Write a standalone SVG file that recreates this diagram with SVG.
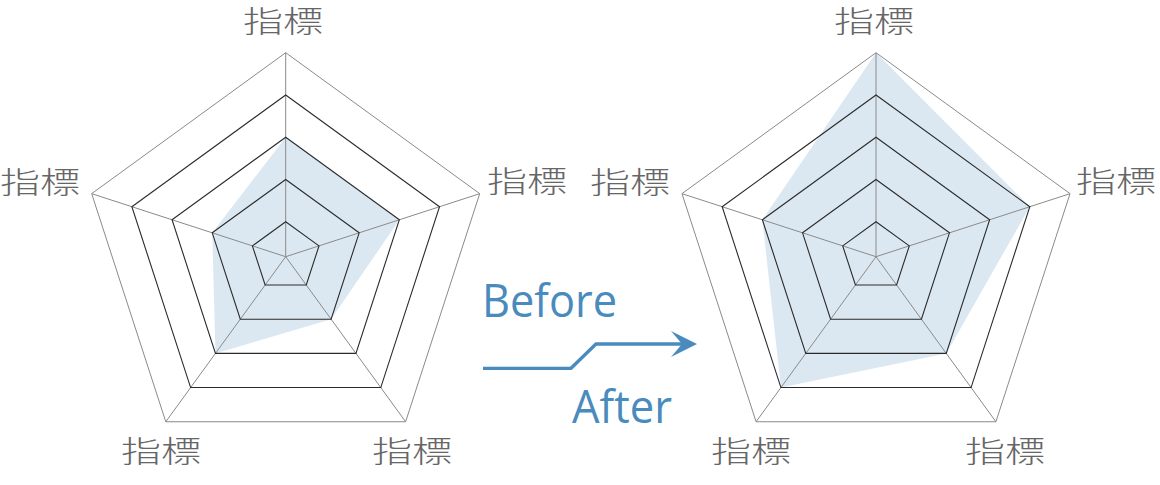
<svg xmlns="http://www.w3.org/2000/svg" xmlns:xlink="http://www.w3.org/1999/xlink" width="1160" height="485" viewBox="0 0 1160 485">
<style>
.bg{fill:#ffffff}
.area{fill:#dce8f1;stroke:none}
.spoke{stroke:#8a8a8a;stroke-width:1;fill:none}
.ring{stroke:#2a2a2a;stroke-width:1.1;fill:none}
.outer{stroke:#8a8a8a;stroke-width:1;fill:none}
.lbl{font-family:"Noto Sans CJK JP","Noto Sans CJK SC",sans-serif;font-size:30px;font-weight:300;fill:#666666}
.en{font-family:"Open Sans","Liberation Sans",sans-serif;font-size:45px;fill:#4a8bbd}
.arrow{stroke:#4a8bbd;stroke-width:3.3;fill:none;stroke-linejoin:miter}
.head{fill:#4a8bbd}
</style>
<defs>
<g id="grid">
<g class="spokes">
<line class="spoke" x1="0" y1="0" x2="0" y2="-204"/>
<line class="spoke" x1="0" y1="0" x2="194.02" y2="-63.04"/>
<line class="spoke" x1="0" y1="0" x2="119.91" y2="165.04"/>
<line class="spoke" x1="0" y1="0" x2="-119.91" y2="165.04"/>
<line class="spoke" x1="0" y1="0" x2="-194.02" y2="-63.04"/>
</g>
<polygon class="ring" points="0,-35 33.29,-10.82 20.57,28.32 -20.57,28.32 -33.29,-10.82"/>
<polygon class="ring" points="0,-77.25 73.47,-23.87 45.41,62.5 -45.41,62.5 -73.47,-23.87"/>
<polygon class="ring" points="0,-119.5 113.65,-36.93 70.24,96.68 -70.24,96.68 -113.65,-36.93"/>
<polygon class="ring" points="0,-161.75 153.83,-49.98 95.07,130.86 -95.07,130.86 -153.83,-49.98"/>
<polygon class="outer" points="0,-204 194.02,-63.04 119.91,165.04 -119.91,165.04 -194.02,-63.04"/>
</g>
</defs>
<rect class="bg" x="0" y="0" width="1160" height="485"/>

<g id="chart-before" transform="translate(285.7,256.7)">
<polygon class="area" points="0,-119.5 113.65,-36.93 45.41,62.5 -70.24,96.68 -73.47,-23.87"/>
<use xlink:href="#grid"/>
</g>

<g id="chart-after" transform="translate(876,256.7)">
<polygon class="area" points="0,-204 153.83,-49.98 70.24,96.68 -95.07,130.86 -113.65,-36.93"/>
<use xlink:href="#grid"/>
</g>

<g id="labels-before">
<text class="lbl" x="243" y="32" textLength="80" lengthAdjust="spacingAndGlyphs">指標</text>
<text class="lbl" x="0" y="193" textLength="80" lengthAdjust="spacingAndGlyphs">指標</text>
<text class="lbl" x="487" y="191.5" textLength="80" lengthAdjust="spacingAndGlyphs">指標</text>
<text class="lbl" x="121" y="461.5" textLength="80" lengthAdjust="spacingAndGlyphs">指標</text>
<text class="lbl" x="372" y="461.5" textLength="80" lengthAdjust="spacingAndGlyphs">指標</text>
</g>
<g id="labels-after">
<text class="lbl" x="834" y="32" textLength="80" lengthAdjust="spacingAndGlyphs">指標</text>
<text class="lbl" x="590" y="193" textLength="80" lengthAdjust="spacingAndGlyphs">指標</text>
<text class="lbl" x="1076" y="191.5" textLength="80" lengthAdjust="spacingAndGlyphs">指標</text>
<text class="lbl" x="711" y="461.5" textLength="80" lengthAdjust="spacingAndGlyphs">指標</text>
<text class="lbl" x="965" y="461.5" textLength="80" lengthAdjust="spacingAndGlyphs">指標</text>
</g>

<g id="connectors">
<polyline class="arrow" points="483,368.3 571,368.3 596,344 683,344"/>
<polygon class="head" points="697,344 671,331 682,344 671,357"/>
</g>
<g id="transition-labels">
<text class="en" x="482" y="316.7" textLength="135" lengthAdjust="spacingAndGlyphs">Before</text>
<text class="en" x="572" y="423.3" textLength="100" lengthAdjust="spacingAndGlyphs">After</text>
</g>
</svg>
